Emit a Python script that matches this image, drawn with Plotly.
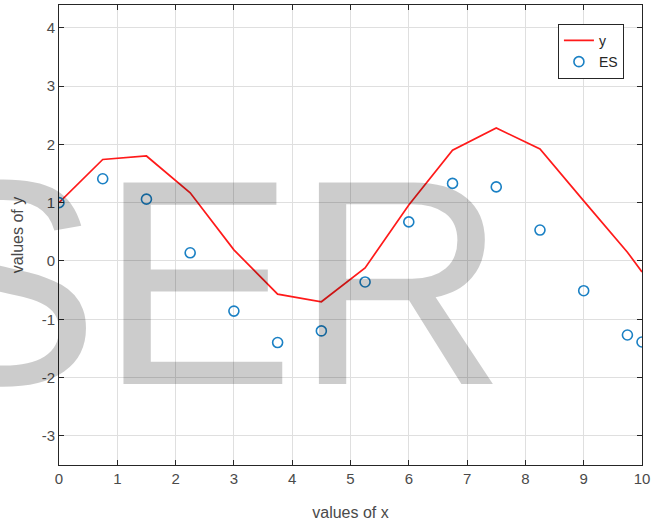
import plotly.graph_objects as go

# sample positions
x_vals = [0, 0.75, 1.5, 2.25, 3, 3.75, 4.5, 5.25, 6, 6.75, 7.5, 8.25, 9, 9.75, 10]
# reference curve y
y_vals = [1.0, 1.74, 1.80, 1.17, 0.19, -0.57, -0.70, -0.12, 0.96, 1.90, 2.28, 1.92, 1.03, 0.15, -0.19]
# estimated values (ES)
es_vals = [1.0, 1.41, 1.06, 0.14, -0.86, -1.40, -1.20, -0.36, 0.67, 1.33, 1.27, 0.53, -0.51, -1.27, -1.39]

x_ticks = list(range(0, 11))
y_ticks = [-3, -2, -1, 0, 1, 2, 3, 4]
y_tick_labels = ["-3", "-2", "-1", "0", "1", "2", "3", "4"]

axis_col = "#262626"
grid_col = "#dfdfdf"
label_col = "#4a4a4a"
font_fam = "Liberation Sans, Arial, sans-serif"

fig = go.Figure()
fig.add_trace(go.Scatter(
    x=x_vals, y=y_vals, mode="lines", name="y",
    line=dict(color="#ff1a1a", width=1.7),
))
fig.add_trace(go.Scatter(
    x=x_vals, y=es_vals, mode="markers", name="ES",
    marker=dict(symbol="circle-open", size=10, color="#1a80c4",
                line=dict(color="#1a80c4", width=1.6)),
))

axis_common = dict(
    showline=True, linecolor=axis_col, linewidth=1, mirror="ticks",
    ticks="inside", ticklen=5, tickcolor=axis_col, tickwidth=1,
    showgrid=True, gridcolor=grid_col, gridwidth=1, zeroline=False,
    tickfont=dict(family=font_fam, size=15, color=label_col),
    automargin=False,
)

fig.update_xaxes(
    range=[0, 10], tickvals=x_ticks,
    title=dict(text="values of x", font=dict(family=font_fam, size=16, color=label_col), standoff=21),
    **axis_common,
)
fig.update_yaxes(
    range=[-3.5, 4.39], tickvals=y_ticks, ticktext=y_tick_labels,
    title=dict(text="values of y", font=dict(family=font_fam, size=16, color=label_col), standoff=14),
    **axis_common,
)

# large watermark text across the axes
fig.add_annotation(
    text="SER", xref="paper", yref="paper", x=0.2504, y=0.396,
    xanchor="center", yanchor="middle", showarrow=False,
    font=dict(family=font_fam, size=293, color="rgba(0,0,0,0.2)"),
)

fig.update_layout(
    width=652, height=521,
    margin=dict(l=59, r=10, t=5, b=56),
    paper_bgcolor="white", plot_bgcolor="white",
    showlegend=True,
    legend=dict(
        x=0.969, y=0.959, xanchor="right", yanchor="top",
        bordercolor=axis_col, borderwidth=1, bgcolor="white",
        font=dict(family=font_fam, size=14, color="#262626"),
        itemwidth=30, tracegroupgap=0,
    ),
)

fig.write_html("out.html")
